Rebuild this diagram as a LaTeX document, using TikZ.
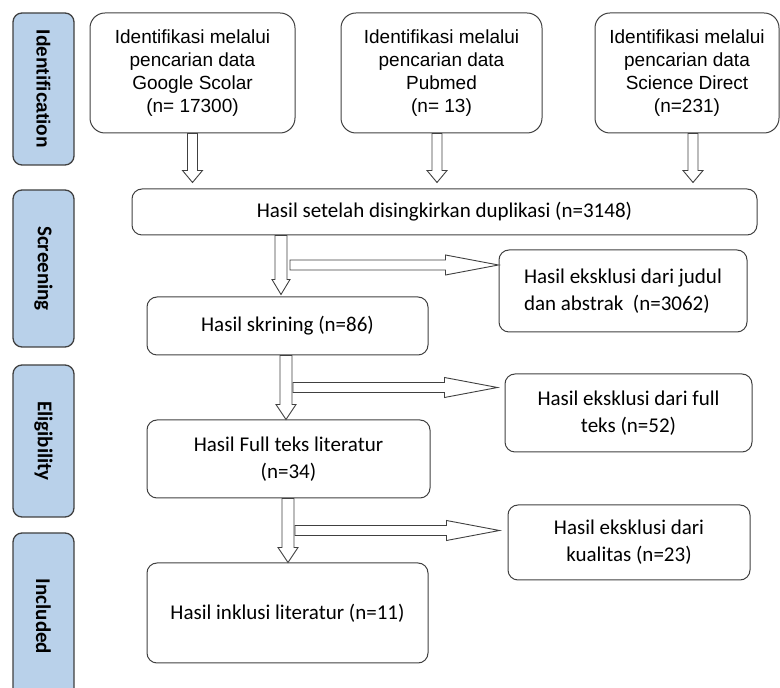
\documentclass[tikz,border=0pt]{standalone}
\usepackage{fontspec}
\setmainfont{Carlito}
\newfontfamily\arialfont{Liberation Sans}
\usetikzlibrary{calc}
\definecolor{PhaseBlue}{HTML}{B9D1EA}
\definecolor{BoxInk}{HTML}{404040}

\tikzset{
  phase/.style={draw=BoxInk, fill=PhaseBlue, line width=1.3pt, rounded corners=9pt,
    rotate=-90, minimum height=61pt, inner sep=0pt,
    font=\fontsize{21}{24}\selectfont\bfseries},
  srcbox/.style={draw=BoxInk, line width=1pt, rounded corners=15pt, minimum height=120pt,
    inner sep=0pt, align=center, font=\arialfont\fontsize{19}{23}\selectfont},
  stepbox/.style={draw=BoxInk, line width=1pt, rounded corners=10pt, inner sep=0pt,
    align=center, font=\fontsize{21}{27}\selectfont},
  blockline/.style={draw=BoxInk, fill=white, line width=0.9pt, line join=miter},
}

% hollow arrow pointing down: from, tip, shaft half width, head half width, head length
\newcommand{\downblock}[5]{%
  \draw[blockline] let \p1=(#1), \p2=(#2) in
    (\x1-#3pt,\y1) -- (\x1-#3pt,\y2+#5pt) -- (\x1-#4pt,\y2+#5pt) -- (\x1,\y2)
    -- (\x1+#4pt,\y2+#5pt) -- (\x1+#3pt,\y2+#5pt) -- (\x1+#3pt,\y1) -- cycle;}
% hollow arrow pointing right: from, tip
\newcommand{\sideblock}[2]{%
  \draw[blockline] let \p1=(#1), \p2=(#2) in
    (\x1,\y1+5pt) -- (\x2-53pt,\y1+5pt) -- (\x2-53pt,\y1+10pt) -- (\x2,\y1)
    -- (\x2-53pt,\y1-10pt) -- (\x2-53pt,\y1-5pt) -- (\x1,\y1-5pt) -- cycle;}

\begin{document}
\begin{tikzpicture}[x=1pt, y=1pt]
  \clip (0,0) rectangle (780,688);

  % phases
  \node[phase, minimum width=152pt, font=\arialfont\fontsize{19}{22}\selectfont\bfseries]
    (idf) at (43.5,599) {Identification};
  \node[phase, minimum width=157pt] (scr) at (43.5,419.5) {Screening};
  \node[phase, minimum width=152pt] (elg) at (43.5,247) {Eligibility};
  \node[phase, minimum width=167pt] (incl) at (43.5,71.5) {Included};

  % sources
  \node[srcbox, minimum width=205pt] (gs) at (192.5,615)
    {Identifikasi melalui\\pencarian data\\Google Scolar\\(n= 17300)};
  \node[srcbox, minimum width=201pt] (pm) at (441.5,615)
    {Identifikasi melalui\\pencarian data\\Pubmed\\(n= 13)};
  \node[srcbox, minimum width=184pt] (sd) at (687,615)
    {Identifikasi melalui\\pencarian data\\Science Direct\\(n=231)};

  % flow
  \node[stepbox, minimum width=625pt, minimum height=46pt] (dup) at (444.5,476)
    {Hasil setelah disingkirkan duplikasi (n=3148)};
  \node[stepbox, minimum width=248pt, minimum height=82pt, align=left] (ex1) at (623,397)
    {Hasil eksklusi dari judul\\dan abstrak~~(n=3062)};
  \node[stepbox, minimum width=281pt, minimum height=58pt] (skr) at (287.5,362)
    {Hasil skrining (n=86)};
  \node[stepbox, minimum width=247pt, minimum height=78pt] (ex2) at (628.5,275)
    {Hasil eksklusi dari full\\teks (n=52)};
  \node[stepbox, minimum width=283pt, minimum height=78pt] (ft) at (288.5,229)
    {Hasil Full teks literatur\\(n=34)};
  \node[stepbox, minimum width=242pt, minimum height=75pt] (ex3) at (629,145.5)
    {Hasil eksklusi dari\\kualitas (n=23)};
  \node[stepbox, minimum width=281pt, minimum height=100pt] (inc) at (287.5,75)
    {Hasil inklusi literatur (n=11)};

  % arrows from the sources
  \downblock{gs.south}{$(gs.south |- dup.north)+(0,6)$}{5}{10}{12}
  \downblock{$(pm.south)+(-4.5,0)$}{$(pm.south |- dup.north)+(-4.5,6)$}{5}{10}{12}
  \downblock{$(sd.south)+(6,0)$}{$(sd.south |- dup.north)+(6,6)$}{5}{10}{12}

  % main line and exclusions
  \coordinate (c1top) at ($(skr.north |- dup.south)+(-6.5,0)$);
  \coordinate (c1tip) at ($(skr.north)+(-6.5,2)$);
  \coordinate (c1mid) at ($(c1top)!0.5!(c1tip)+(9,0)$);
  \downblock{c1top}{c1tip}{6}{9}{15}
  \sideblock{c1mid}{c1mid -| ex1.west}

  \coordinate (c2top) at ($(ft.north |- skr.south)+(-2.5,0)$);
  \coordinate (c2tip) at ($(ft.north)+(-2.5,0)$);
  \coordinate (c2mid) at ($(c2top)!0.5!(c2tip)+(7,0)$);
  \downblock{c2top}{c2tip}{6}{10}{15}
  \sideblock{c2mid}{$(c2mid -| ex2.west)+(-7,0)$}

  \coordinate (c3top) at ($(inc.north |- ft.south)+(0.5,0)$);
  \coordinate (c3tip) at ($(inc.north)+(0.5,0)$);
  \coordinate (c3mid) at ($(c3top)!0.5!(c3tip)+(7,0)$);
  \downblock{c3top}{c3tip}{6}{10}{15}
  \sideblock{c3mid}{$(c3mid -| ex3.west)+(-8,0)$}
\end{tikzpicture}
\end{document}
